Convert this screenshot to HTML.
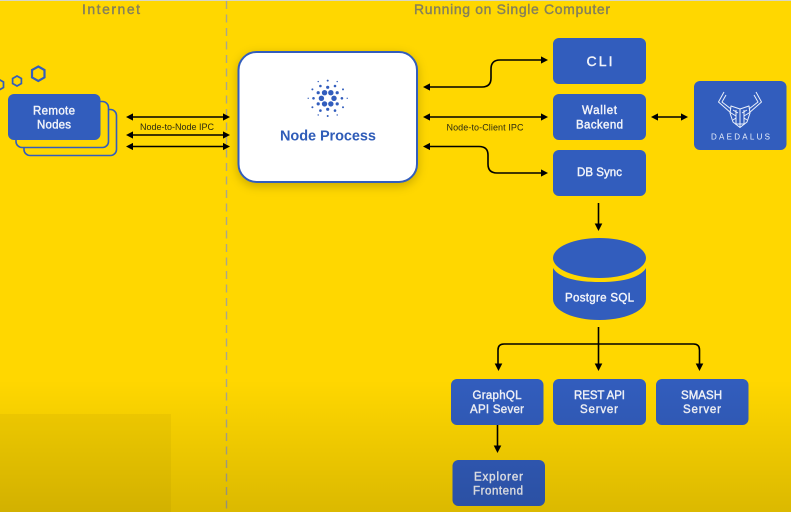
<!DOCTYPE html>
<html><head><meta charset="utf-8"><style>
html,body{margin:0;padding:0;background:#FFD700}
svg{display:block}
text{font-family:"Liberation Sans",sans-serif;font-weight:bold;text-anchor:middle}
.w{fill:#f2f4fa;font-size:11.500px;font-weight:normal;stroke:#f2f4fa;stroke-width:.4px}
.k{fill:#2b2a10;font-size:9px;font-weight:normal}
.h{fill:#86805a;font-size:14px;font-weight:normal;stroke:#86805a;stroke-width:.4px}
.l{fill:none;stroke:#000;stroke-width:1.600}
.a{fill:#000}
.b{fill:#325DBD}
.o{fill:#FFD700;stroke:#325DBD;stroke-width:1.600}
</style></head><body>
<svg width="791" height="512" viewBox="0 0 791 512" xmlns="http://www.w3.org/2000/svg">
<defs>
<filter id="s" x="-20%" y="-20%" width="140%" height="140%"><feDropShadow dx="0" dy="3" stdDeviation="5" flood-color="#000" flood-opacity=".22"/></filter>
<linearGradient id="g" x1="0" y1="0" x2="0" y2="1"><stop offset="0" stop-color="#000" stop-opacity="0"/><stop offset="1" stop-color="#000" stop-opacity=".14"/></linearGradient>
</defs>
<rect width="791" height="512" fill="#FFD700"/>
<rect width="791" height="1" fill="#d8d6c4"/>
<line x1="226.500" y1="1" x2="226.500" y2="512" stroke="#aaa68c" stroke-width="1.400" stroke-dasharray="8 5.500"/>
<text x="111" y="14" class="h" textLength="58">Internet</text>
<text x="512" y="14" class="h" textLength="196">Running on Single Computer</text>

<!-- hexagons -->
<polygon points="38.300,66.500 44.500,70 44.500,77.400 38.300,81 32,77.400 32,70" fill="none" stroke="#325DBD" stroke-width="2.200"/>
<polygon points="17,76 21.400,78.500 21.400,83.500 17,86 12.600,83.500 12.600,78.500" fill="none" stroke="#325DBD" stroke-width="1.700"/>
<polygon points="0,80 3.500,82 3.500,87.500 0,89.500 -3.500,87.500 -3.500,82" fill="none" stroke="#325DBD" stroke-width="1.700"/>

<!-- remote nodes -->
<rect x="24" y="109.500" width="92.500" height="46" rx="6" class="o"/>
<rect x="16" y="101.500" width="92.500" height="46" rx="6" class="o"/>
<rect x="8" y="94" width="92.500" height="46" rx="6" class="b"/>
<text x="54" y="114.500" class="w" textLength="42">Remote</text>
<text x="54" y="128.500" class="w" textLength="34">Nodes</text>

<!-- left arrows -->
<path class="l" d="M130 117H226M130 135H226M130 146.500H226"/>
<path class="a" d="M126 117l7-3.600v7.200zM230 117l-7-3.600v7.200zM126 135l7-3.600v7.200zM230 135l-7-3.600v7.200zM126 146.500l7-3.600v7.200zM230 146.500l-7-3.600v7.200z"/>
<text x="177" y="130" class="k" textLength="74">Node-to-Node IPC</text>

<!-- node process -->
<rect x="238.500" y="52" width="178.500" height="130" rx="18" fill="#fff" stroke="#325DBD" stroke-width="2" filter="url(#s)"/>
<g transform="translate(327.700,98.300)" fill="#325DBD">
<g><circle cx="-6.300" cy="0" r="2.700"/><circle cx="6.300" cy="0" r="2.700"/><circle cx="-3.150" cy="-5.600" r="2.700"/><circle cx="3.150" cy="-5.600" r="2.700"/><circle cx="-3.150" cy="5.600" r="2.700"/><circle cx="3.150" cy="5.600" r="2.700"/></g>
<g><circle cx="0" cy="-11" r="1.600"/><circle cx="0" cy="11" r="1.600"/><circle cx="-9.500" cy="-5.600" r="1.600"/><circle cx="9.500" cy="-5.600" r="1.600"/><circle cx="-9.500" cy="5.600" r="1.600"/><circle cx="9.500" cy="5.600" r="1.600"/></g>
<g><circle cx="-14.200" cy="0" r="1.300"/><circle cx="14.200" cy="0" r="1.300"/><circle cx="-7.300" cy="-12.300" r="1.300"/><circle cx="7.300" cy="-12.300" r="1.300"/><circle cx="-7.300" cy="12.300" r="1.300"/><circle cx="7.300" cy="12.300" r="1.300"/></g>
<g><circle cx="0" cy="-17.700" r="1"/><circle cx="0" cy="17.700" r="1"/><circle cx="-15.300" cy="-8.900" r="1"/><circle cx="15.300" cy="-8.900" r="1"/><circle cx="-15.300" cy="8.900" r="1"/><circle cx="15.300" cy="8.900" r="1"/></g>
<g><circle cx="-19.500" cy="0" r=".7"/><circle cx="19.500" cy="0" r=".7"/><circle cx="-9.500" cy="-16.700" r=".7"/><circle cx="9.500" cy="-16.700" r=".7"/><circle cx="-9.500" cy="16.700" r=".7"/><circle cx="9.500" cy="16.700" r=".7"/></g>
</g>
<text x="328" y="140.500" fill="#2F5CB8" font-size="14.500" textLength="96">Node Process</text>

<!-- right arrows -->
<path class="l" d="M427 87H482Q491 87 491 78V69Q491 60 500 60H544"/>
<path class="l" d="M427 117H544"/>
<path class="l" d="M427 146.500H479Q488 146.500 488 155V164Q488 173 497 173H544"/>
<path class="a" d="M423 87l7-3.600v7.200zM548 60l-7-3.600v7.200zM423 117l7-3.600v7.200zM548 117l-7-3.600v7.200zM423 146.500l7-3.600v7.200zM548 173l-7-3.600v7.200z"/>
<text x="485" y="130.500" class="k" textLength="77">Node-to-Client IPC</text>

<!-- right column -->
<rect x="553" y="38" width="93" height="46" rx="6" class="b"/>
<text x="599.500" y="66" class="w" textLength="26" style="font-size:14px">CLI</text>
<rect x="553" y="94" width="93" height="46" rx="6" class="b"/>
<text x="599.500" y="114" class="w" textLength="35">Wallet</text>
<text x="599.500" y="128.500" class="w" textLength="47">Backend</text>
<rect x="553" y="150" width="93" height="46" rx="6" class="b"/>
<text x="599.500" y="176" class="w" textLength="45">DB Sync</text>

<path class="l" d="M655 117H684"/>
<path class="a" d="M651 117l7-3.600v7.200zM688 117l-7-3.600v7.200z"/>

<!-- daedalus -->
<rect x="694" y="81" width="92.500" height="69" rx="6" class="b"/>
<g fill="none" stroke="#eaf0fb" stroke-width="1" stroke-linejoin="round">
<path d="M724 92L718.500 102L731 113M756 92L761.500 102L749 113"/>
<path d="M726 95L722 102L731 109M754 95L758 102L749 109"/>
<path d="M731 106L740 109L749 106L750 113L747 122L740 127.500L733 122L730 113Z"/>
<path d="M740 109V127.500M736 110V124M744 110V124M731 113L736 116M749 113L744 116M733 120L736 118M747 120L744 118M733 110L738 113M747 110L742 113M735 124L745 124"/>
</g>
<text x="740.500" y="139.500" fill="#eaf0fb" style="font-size:8px;font-weight:normal" textLength="59">DAEDALUS</text>

<!-- db arrow -->
<path class="l" d="M598.500 203V226"/>
<path class="a" d="M598.500 231l-3.800-7.500h7.600z"/>

<!-- cylinder -->
<path class="b" d="M553 268V299C553 311 574 320 599.500 320S646 311 646 299V268C640 278 622 282 599.500 282S559 278 553 268Z"/>
<ellipse cx="599.500" cy="258" rx="46.500" ry="20" class="b"/>
<text x="599.500" y="301.500" class="w" textLength="69">Postgre SQL</text>

<!-- tree -->
<path class="l" d="M598.500 327V366"/>
<path class="l" d="M498 366V350Q498 344 504 344H693.500Q699.500 344 699.500 350V366"/>
<path class="a" d="M498.500 371l-3.800-7.500h7.600zM598.500 371l-3.800-7.500h7.600zM699.500 371l-3.800-7.500h7.600z"/>

<!-- servers -->
<rect x="451" y="379" width="92.500" height="46" rx="6" class="b"/>
<text x="497" y="399" class="w" textLength="49">GraphQL</text>
<text x="497" y="413" class="w" textLength="54">API Sever</text>
<rect x="553" y="379" width="93" height="46" rx="6" class="b"/>
<text x="599.500" y="399" class="w" textLength="51">REST API</text>
<text x="599" y="413" class="w" textLength="38">Server</text>
<rect x="656" y="379" width="92.500" height="46" rx="6" class="b"/>
<text x="701.500" y="399" class="w" textLength="41">SMASH</text>
<text x="702" y="413" class="w" textLength="38">Server</text>

<path class="l" d="M497.500 425V449"/>
<path class="a" d="M497.500 453l-3.800-7.500h7.600z"/>
<rect x="452.500" y="460" width="92.500" height="46" rx="6" class="b"/>
<text x="498.500" y="480.500" class="w" textLength="49">Explorer</text>
<text x="498" y="494.500" class="w" textLength="50">Frontend</text>

<!-- video gradient overlay -->
<rect x="0" y="380" width="791" height="132" fill="url(#g)"/>
<rect x="0" y="414" width="171" height="98" fill="#000" opacity=".04"/>
</svg>
</body></html>
